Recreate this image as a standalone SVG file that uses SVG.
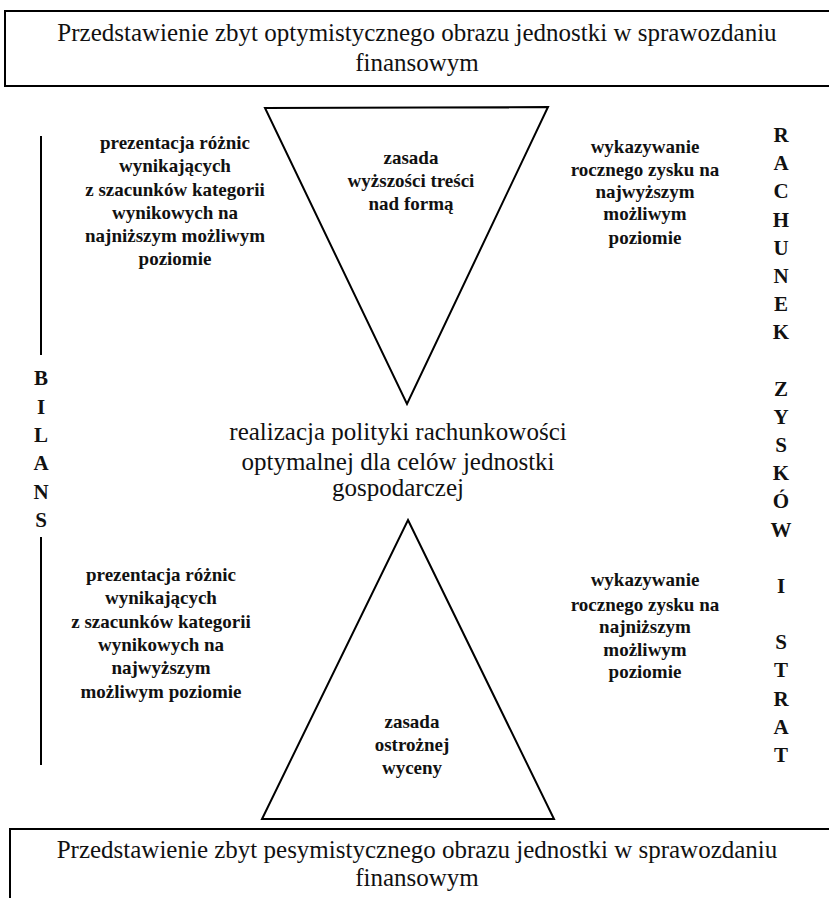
<svg xmlns="http://www.w3.org/2000/svg" width="829" height="898" viewBox="0 0 829 898">
<style>
.ln{fill:none;stroke:#000;stroke-width:2}
.box{font-family:"Liberation Serif",serif;font-size:25px;fill:#111;text-anchor:middle}
.ctr{font-family:"Liberation Serif",serif;font-size:25px;fill:#111;text-anchor:middle}
.t{font-family:"Liberation Serif",serif;font-size:19px;font-weight:bold;fill:#111;text-anchor:middle}
.v{font-family:"Liberation Serif",serif;font-size:21px;font-weight:bold;fill:#111;text-anchor:middle}
</style>
<rect width="829" height="898" fill="#fff"/>
<g id="top-box">
<path class="ln" d="M829 11H5V86H829"/>
<text class="box" x="417" y="41">Przedstawienie zbyt optymistycznego obrazu jednostki w sprawozdaniu</text>
<text class="box" x="417" y="71">finansowym</text>
</g>
<g id="upper-triangle">
<path class="ln" d="M265 108L548 107L407 404Z"/>
<text class="t" x="411" y="164">zasada</text>
<text class="t" x="411" y="187">wyższości treści</text>
<text class="t" x="411" y="210">nad formą</text>
</g>
<g id="upper-left">
<text class="t" x="175" y="149">prezentacja różnic</text>
<text class="t" x="175" y="172">wynikających</text>
<text class="t" x="175" y="196">z szacunków kategorii</text>
<text class="t" x="175" y="219">wynikowych na</text>
<text class="t" x="175" y="242">najniższym możliwym</text>
<text class="t" x="175" y="265">poziomie</text>
</g>
<g id="upper-right">
<text class="t" x="645" y="153">wykazywanie</text>
<text class="t" x="645" y="176">rocznego zysku na</text>
<text class="t" x="645" y="198">najwyższym</text>
<text class="t" x="645" y="220">możliwym</text>
<text class="t" x="645" y="244">poziomie</text>
</g>
<g id="center">
<text class="ctr" x="398" y="440">realizacja polityki rachunkowości</text>
<text class="ctr" x="398" y="470">optymalnej dla celów jednostki</text>
<text class="ctr" x="398" y="496">gospodarczej</text>
</g>
<g id="lower-triangle">
<path class="ln" d="M408 520L554 819L262 819Z"/>
<text class="t" x="412" y="728">zasada</text>
<text class="t" x="412" y="751">ostrożnej</text>
<text class="t" x="412" y="774">wyceny</text>
</g>
<g id="lower-left">
<text class="t" x="161" y="581">prezentacja różnic</text>
<text class="t" x="161" y="604">wynikających</text>
<text class="t" x="161" y="628">z szacunków kategorii</text>
<text class="t" x="161" y="651">wynikowych na</text>
<text class="t" x="161" y="674">najwyższym</text>
<text class="t" x="161" y="698">możliwym poziomie</text>
</g>
<g id="lower-right">
<text class="t" x="645" y="586">wykazywanie</text>
<text class="t" x="645" y="611">rocznego zysku na</text>
<text class="t" x="645" y="633">najniższym</text>
<text class="t" x="645" y="656">możliwym</text>
<text class="t" x="645" y="678">poziomie</text>
</g>
<g id="bilans">
<path class="ln" d="M41 136V355M41 537V765"/>
<text class="v" x="41" y="385">B</text>
<text class="v" x="41" y="414">I</text>
<text class="v" x="41" y="442">L</text>
<text class="v" x="41" y="470">A</text>
<text class="v" x="41" y="499">N</text>
<text class="v" x="41" y="527">S</text>
</g>
<g id="rachunek">
<text class="v" x="781" y="142">R</text>
<text class="v" x="781" y="170">A</text>
<text class="v" x="781" y="198">C</text>
<text class="v" x="781" y="227">H</text>
<text class="v" x="781" y="255">U</text>
<text class="v" x="781" y="283">N</text>
<text class="v" x="781" y="311">E</text>
<text class="v" x="781" y="339">K</text>
<text class="v" x="781" y="396">Z</text>
<text class="v" x="781" y="424">Y</text>
<text class="v" x="781" y="452">S</text>
<text class="v" x="781" y="480">K</text>
<text class="v" x="781" y="508">Ó</text>
<text class="v" x="781" y="537">W</text>
<text class="v" x="781" y="593">I</text>
<text class="v" x="781" y="649">S</text>
<text class="v" x="781" y="677">T</text>
<text class="v" x="781" y="706">R</text>
<text class="v" x="781" y="734">A</text>
<text class="v" x="781" y="762">T</text>
</g>
<g id="bottom-box">
<path class="ln" d="M829 829H10V898"/>
<text class="box" x="417" y="858">Przedstawienie zbyt pesymistycznego obrazu jednostki w sprawozdaniu</text>
<text class="box" x="417" y="886">finansowym</text>
</g>
</svg>
